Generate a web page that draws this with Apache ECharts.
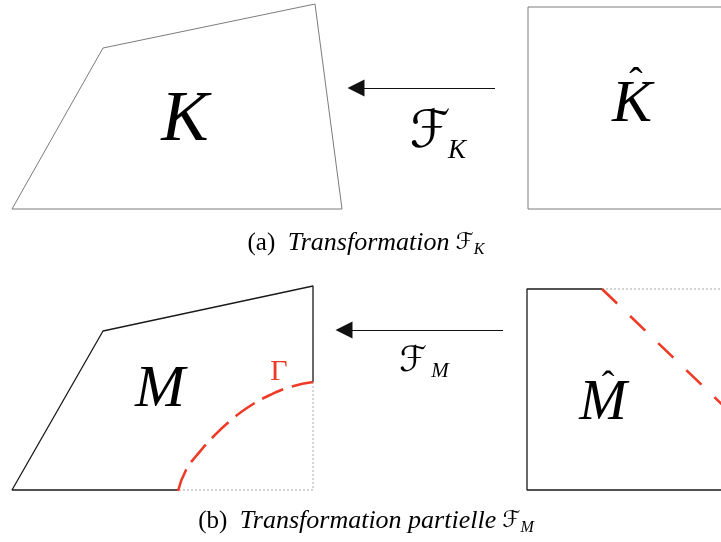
<!DOCTYPE html>
<html><head><meta charset="utf-8">
<script src="https://cdn.jsdelivr.net/npm/echarts@6/dist/echarts.min.js"></script>
<style>html,body{margin:0;padding:0;background:#fff}#c{width:721px;height:542px}</style>
</head><body><div id="c"></div>
<script>
// ---- geometry (diagram coordinates, y downwards) ----
const shapeK = [[12,209],[103,48],[315,4],[342,209],[12,209]];
const shapeKhat = [[740,7],[528,7],[528,209],[740,209]];
const arrowK = [[495,88],[356,88]];
const shapeMsolid = [[178,490],[12,490],[103,331],[313,286],[313,382]];
const shapeMdotted = [[313,382],[313,490],[178,490]];
const gammaArc = [[178,491],[186,470],[197,455],[213,437],[230,421],[250,406],[270,395],[290,387],[313,382]];
const shapeMhatSolid = [[602,289],[527,289],[527,490],[740,490]];
const shapeMhatDotted = [[602,289],[740,289]];
const gammaHat = [[602,289],[760,441]];
const arrowM = [[503,330],[344,330]];

// ---- text anchors ----
const textNames = ['K','K','ˆ','ℱ','K','M','Γ','ℱ','M','M','ˆ'];
const textAnchors = [[185,121],[632,105],[636,84],[430,133],[457,151],[160,390],[279,372],[413,362],[440,371],[603,404],[608,387]];
const captionA = ['(a)', 'Transformation', 'ℱ', 'K'];
const captionB = ['(b)', 'Transformation partielle', 'ℱ', 'M'];
const captionAnchors = [[366,243],[366,521]];

const serif = "'Liberation Serif', 'Times New Roman', serif";
const script = "'DejaVu Sans', sans-serif";
const textStyles = [
  {fontSize:71, fontStyle:'italic', fontFamily:serif},
  {fontSize:60, fontStyle:'italic', fontFamily:serif},
  {fontSize:40, fontFamily:serif},
  {fontSize:52, fontFamily:script},
  {fontSize:27, fontStyle:'italic', fontFamily:serif},
  {fontSize:60, fontStyle:'italic', fontFamily:serif},
  {fontSize:30, fontFamily:serif, color:'#ee3a26'},
  {fontSize:35, fontFamily:script},
  {fontSize:21, fontStyle:'italic', fontFamily:serif},
  {fontSize:57, fontStyle:'italic', fontFamily:serif},
  {fontSize:38, fontFamily:serif}
];

function lineSeries(data, color, width, type, smooth) {
  return {type:'line', data:data, symbol:'none', smooth:!!smooth, clip:true, silent:true,
    lineStyle:{color:color, width:width, type:type||'solid'}, animation:false, z:2};
}
function arrowSeries(data) {
  return {type:'lines', coordinateSystem:'cartesian2d', data:[{coords:data}], symbol:['none','triangle'],
    symbolSize:[10,17], lineStyle:{color:'#111', width:1, opacity:1}, silent:true, animation:false, z:3};
}
const base = {color:'#000', textBorderWidth:0, textShadowBlur:0, opacity:1};
const richCap = {
  n:Object.assign({fontSize:25, fontFamily:serif}, base),
  i:Object.assign({fontSize:26, fontStyle:'italic', fontFamily:serif}, base),
  f:Object.assign({fontSize:23, fontFamily:script}, base),
  s:Object.assign({fontSize:16, fontStyle:'italic', fontFamily:serif, padding:[14,0,0,0]}, base)
};
function capText(c){ return '{n|' + c[0] + '}{n|  }{i|' + c[1] + '}{n| }{f|' + c[2] + '}{s|' + c[3] + '}'; }

const chart = echarts.init(document.getElementById('c'), null, {renderer:'canvas'});
chart.setOption({
  animation:false,
  backgroundColor:'#fff',
  grid:{left:0, right:0, top:0, bottom:0},
  xAxis:{type:'value', min:0, max:721, show:false},
  yAxis:{type:'value', min:0, max:542, inverse:true, show:false},
  series:[
    lineSeries(shapeK, '#7c7c7c', 1),
    lineSeries(shapeKhat, '#7c7c7c', 1),
    arrowSeries(arrowK),
    lineSeries(shapeMdotted, '#a8a8a8', 1, [2,2]),
    lineSeries(shapeMhatDotted, '#a8a8a8', 1, [2,2]),
    lineSeries(shapeMsolid, '#1a1a1a', 1.3),
    lineSeries(shapeMhatSolid, '#1a1a1a', 1.3),
    lineSeries(gammaArc, '#ee3a26', 2.6, [23,9], 0.5),
    lineSeries(gammaHat, '#ee3a26', 2.6, [21,18]),
    arrowSeries(arrowM),
    {type:'scatter', symbolSize:0, silent:true, animation:false, z:5,
      data:textNames.map((t,k)=>({name:t, value:textAnchors[k],
        label:Object.assign({show:true, position:'inside', formatter:t, align:'center', verticalAlign:'middle'}, base, textStyles[k])}))},
    {type:'scatter', symbolSize:0, silent:true, animation:false, z:5,
      data:[captionA, captionB].map((c,k)=>({name:c[1], value:captionAnchors[k],
        label:Object.assign({show:true, position:'inside', formatter:capText(c), rich:richCap}, base)}))}
  ]
});
</script></body></html>
